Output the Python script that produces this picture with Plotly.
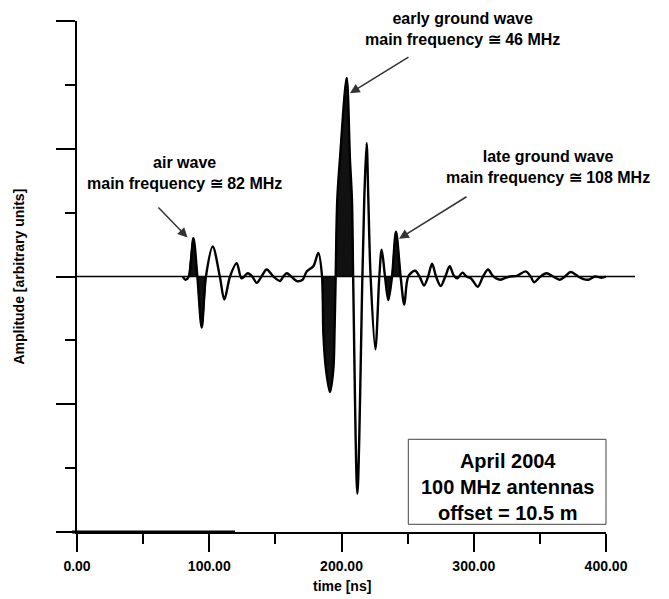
import plotly.graph_objects as go

# ---- data ----
time_ns = [80, 82, 84.5, 88, 91, 94.3, 97.5, 102.6, 108, 111.4, 115.7, 120.7, 124.5,
           129.1, 132.5, 135.9, 139.5, 143.4, 148.5, 153.5, 156, 158.6, 162, 166.1,
           170.6, 173.7, 178.7, 182.5, 185.3, 186.3, 188.3, 191.3, 193.8, 194.8, 195.6,
           196.8, 198.8, 203.9, 206.4, 207.9, 208.8, 212, 215.8, 217.2, 219, 220.3,
           222, 225.6, 228.6, 230.4, 232.9, 235.4, 238.2, 241.2, 244.7, 247.5, 250.5,
           255.6, 259, 262.4, 265.5, 268.5, 271.5, 275, 278.5, 281.8, 285, 287.5,
           291.5, 294.5, 298, 303, 307, 310.8, 314, 317, 320, 324, 327.4, 332.5,
           339.3, 343, 345.6, 350, 355, 360, 365, 369, 373.3, 379, 383, 386.6,
           391.7, 396.7, 400]
amplitude = [0, -0.05, 0, 0.60, 0, -0.80, 0, 0.47, 0, -0.36, 0, 0.21, -0.03,
             0.05, 0, -0.10, 0, 0.11, 0, -0.07, 0, 0.05, 0, -0.07,
             -0.05, 0.08, 0.16, 0.37, 0, -0.9, -1.46, -1.81, -1.46, -0.8, 0,
             1.2, 1.83, 3.11, 1.83, 1.2, 0, -3.40, 0, 1.2, 2.09, 1.2,
             0, -1.14, 0, 0.42, 0, -0.37, 0, 0.70, 0, -0.44, 0,
             0.09, 0, -0.14, 0, 0.20, 0, -0.15, 0, 0.16, 0.01, -0.03,
             0.06, 0, -0.03, -0.16, 0, 0.11, 0.02, -0.03, -0.05, -0.02, 0, 0.01,
             0.08, 0, -0.09, -0.01, 0.05, 0, -0.05, 0, 0.07, 0, -0.04, -0.05,
             0, -0.02, 0]

# half-cycles drawn filled (start, end in ns)
filled_windows = [(84.5, 91), (91, 97.5), (185.3, 195.6), (195.6, 208.8),
                  (232.9, 238.2), (238.2, 244.7)]

x_ticks = [0, 100, 200, 300, 400]

FONT = "Liberation Sans, Arial, sans-serif"

fig = go.Figure()

for (t0, t1) in filled_windows:
    seg = [(t, a) for t, a in zip(time_ns, amplitude) if t0 <= t <= t1]
    fig.add_trace(go.Scatter(
        x=[p[0] for p in seg], y=[p[1] for p in seg],
        mode="lines", line=dict(color="#111111", width=1, shape="spline", smoothing=0.9),
        fill="tozeroy", fillcolor="#111111", hoverinfo="skip", showlegend=False))

fig.add_trace(go.Scatter(
    x=time_ns, y=amplitude, mode="lines",
    line=dict(color="black", width=2.4, shape="spline", smoothing=0.9),
    showlegend=False))

W, H = 669, 599
L, R, T, B = 77, 63, 21, 67
pw, ph = W - L - R, H - T - B

def px(x):
    return (x - L) / pw

def py(y):
    return (H - B - y) / ph

fig.update_layout(
    width=W, height=H,
    margin=dict(l=L, r=R, t=T, b=B, pad=0),
    paper_bgcolor="white", plot_bgcolor="white",
    font=dict(family=FONT, color="black"),
    xaxis=dict(range=[0, 400], tickvals=x_ticks, tickformat=".2f",
               ticks="outside", ticklen=18, tickwidth=2, tickcolor="black",
               minor=dict(dtick=50, ticks="outside", ticklen=10, tickwidth=2, tickcolor="black"),
               showline=True, linewidth=2, linecolor="black",
               showgrid=False, zeroline=False,
               tickfont=dict(size=14, family=FONT, weight="bold"),
               ticklabelstandoff=2),
    yaxis=dict(range=[-4, 4], dtick=2, tick0=0,
               ticks="outside", ticklen=19, tickwidth=2, tickcolor="black",
               minor=dict(dtick=1, ticks="outside", ticklen=10, tickwidth=2, tickcolor="black"),
               showline=True, linewidth=1.5, linecolor="black",
               showticklabels=False, showgrid=False, zeroline=False),
)

shapes = [
    # zero line extending past the axis end
    dict(type="line", xref="paper", yref="paper", x0=0, x1=px(635), y0=0.5, y1=0.5,
         line=dict(color="black", width=1.5), layer="above"),
    # heavier piece of the time axis
    dict(type="line", xref="paper", yref="paper", x0=px(72), x1=px(235), y0=0, y1=0,
         line=dict(color="black", width=3)),
    # info box
    dict(type="rect", xref="paper", yref="paper", x0=px(408.3), x1=px(606), y0=py(524.3), y1=py(439.3),
         line=dict(color="#444444", width=1), fillcolor="white"),
]
fig.update_layout(shapes=shapes)

ann_font = dict(family=FONT, size=16, color="black", weight="bold")
annotations = [
    dict(text="air wave<br>main frequency \u2245 82 MHz", xref="paper", yref="paper",
         x=px(184), y=py(172.5), showarrow=False, font=ann_font, xanchor="center", yanchor="middle"),
    dict(text="early ground wave<br>main frequency \u2245 46 MHz", xref="paper", yref="paper",
         x=px(462), y=py(29), showarrow=False, font=ann_font, xanchor="center", yanchor="middle"),
    dict(text="late ground wave<br>main frequency \u2245 108 MHz", xref="paper", yref="paper",
         x=px(548), y=py(167), showarrow=False, font=ann_font, xanchor="center", yanchor="middle"),
    # arrows
    dict(text="", x=83.55, y=0.61, xref="x", yref="y", ax=-30.5, ay=-31.5,
         showarrow=True, arrowhead=2, arrowsize=1.3, arrowwidth=1.5, arrowcolor="#333333", standoff=0),
    dict(text="", x=206.4, y=2.87, xref="x", yref="y", ax=60, ay=-37,
         showarrow=True, arrowhead=2, arrowsize=1.3, arrowwidth=1.5, arrowcolor="#333333", standoff=0),
    dict(text="", x=243.5, y=0.59, xref="x", yref="y", ax=69, ay=-43,
         showarrow=True, arrowhead=2, arrowsize=1.3, arrowwidth=1.5, arrowcolor="#333333", standoff=0),
    # box text
    dict(text="April 2004<br>100 MHz antennas<br>offset = 10.5 m", xref="paper", yref="paper",
         x=px(507), y=py(486.5), showarrow=False, xanchor="center", yanchor="middle",
         font=dict(family=FONT, size=20, color="black", weight="bold")),
    # axis titles
    dict(text="time [ns]", xref="paper", yref="paper", x=0.5, y=py(586),
         showarrow=False, xanchor="center", yanchor="middle",
         font=dict(family=FONT, size=14, color="black", weight="bold")),
    dict(text="Amplitude [arbitrary units]", xref="paper", yref="paper", x=px(18), y=0.5,
         showarrow=False, xanchor="center", yanchor="middle", textangle=-90,
         font=dict(family=FONT, size=14, color="black", weight="bold")),
]
fig.update_layout(annotations=annotations)

fig.write_html("out.html")
